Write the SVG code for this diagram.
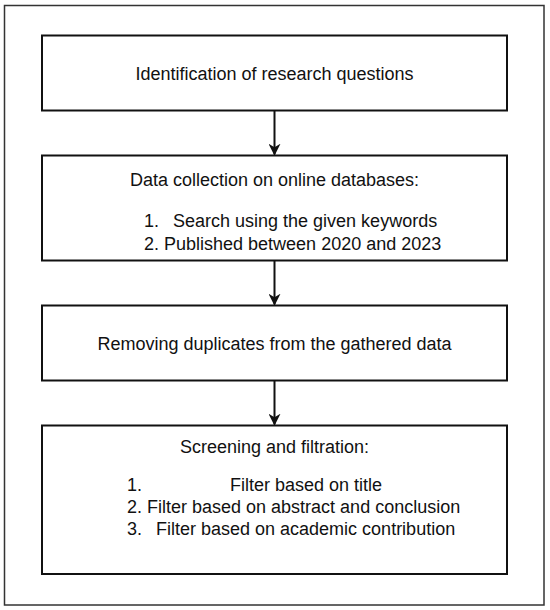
<svg xmlns="http://www.w3.org/2000/svg" width="550" height="610" viewBox="0 0 550 610">
<style>
.box{fill:#fff;stroke:#111;stroke-width:2}
.t{font-family:"Liberation Sans",Arial,sans-serif;font-size:18px;fill:#111}
.c{text-anchor:middle}
.edge{stroke:#111;stroke-width:2;fill:none}
</style>
<defs>
<marker id="ah" viewBox="0 0 10 10" refX="9" refY="5" markerWidth="6" markerHeight="6" markerUnits="strokeWidth" orient="auto">
<path d="M0,0 L10,5 L0,10 L3,5 Z" fill="#111"/>
</marker>
</defs>
<rect x="4.5" y="5.5" width="539.5" height="599.5" fill="#fff" stroke="#333" stroke-width="1.5"/>
<g id="connectors">
<line class="edge" x1="274.5" y1="110.5" x2="274.5" y2="154.5" marker-end="url(#ah)"/>
<line class="edge" x1="274.5" y1="260.5" x2="274.5" y2="304.5" marker-end="url(#ah)"/>
<line class="edge" x1="274.5" y1="380.5" x2="274.5" y2="424.5" marker-end="url(#ah)"/>
</g>
<g id="n1">
<rect class="box" x="42" y="35.5" width="465" height="75"/>
<text class="t c" x="274.5" y="79.5">Identification of research questions</text>
</g>
<g id="n2">
<rect class="box" x="42" y="155.5" width="465" height="105"/>
<text class="t c" x="274.5" y="186">Data collection on online databases:</text>
<text class="t" x="144" y="227">1.<tspan x="173">Search using the given keywords</tspan></text>
<text class="t" x="144" y="250">2. Published between 2020 and 2023</text>
</g>
<g id="n3">
<rect class="box" x="42" y="305.5" width="465" height="75"/>
<text class="t c" x="274.5" y="349.5">Removing duplicates from the gathered data</text>
</g>
<g id="n4">
<rect class="box" x="42" y="425.5" width="465" height="148.5"/>
<text class="t c" x="274.5" y="453">Screening and filtration:</text>
<text class="t" x="127" y="491">1.<tspan x="230">Filter based on title</tspan></text>
<text class="t" x="127" y="513">2. Filter based on abstract and conclusion</text>
<text class="t" x="127" y="535">3.<tspan x="156">Filter based on academic contribution</tspan></text>
</g>
</svg>
